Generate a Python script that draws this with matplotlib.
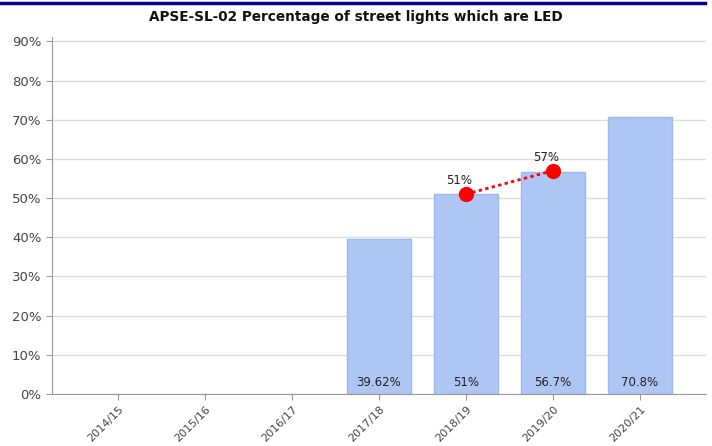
import matplotlib
matplotlib.use("Agg")
import matplotlib.pyplot as plt
from matplotlib.lines import Line2D

# Chart values
years = ["2014/15", "2015/16", "2016/17", "2017/18", "2018/19", "2019/20", "2020/21"]
bar_values = [None, None, None, 39.62, 51, 56.7, 70.8]
bar_labels = ["", "", "", "39.62%", "51%", "56.7%", "70.8%"]
target_years = ["2018/19", "2019/20"]
target_values = [51, 57]
target_labels = ["51%", "57%"]

fig = plt.figure(figsize=(7.12, 4.46), dpi=100)
ax = fig.add_axes([0.073, 0.1166, 0.9186, 0.7994])

x = list(range(len(years)))
xs = [i for i, v in zip(x, bar_values) if v is not None]
vs = [v for v in bar_values if v is not None]
ax.bar(xs, vs, width=0.74, color="#aec6f4", edgecolor="#9bb9f0", linewidth=1, zorder=2)

# Labels at the bottom of each bar
for i, lab in zip(x, bar_labels):
    if lab:
        ax.text(i, 1.2, lab, ha="center", va="bottom", fontsize=8.5, color="#222222", zorder=4)

# Red dotted line
tx = [years.index(y) for y in target_years]
ax.plot(tx, target_values, color="red", linestyle=(0, (1.2, 1.2)), linewidth=2,
        marker="o", markersize=10, zorder=5)
for i, v, lab in zip(tx, target_values, target_labels):
    ax.text(i - 0.08, v + 1.8, lab, ha="center", va="bottom", fontsize=8.5, color="#222222", zorder=6)

ax.set_xlim(-0.76, 6.76)
ax.set_ylim(0, 91)
ax.set_yticks(range(0, 91, 10))
ax.set_yticklabels([f"{t}%" for t in range(0, 91, 10)])
ax.set_xticks(x)
ax.set_xticklabels(years, rotation=45, ha="right", rotation_mode="anchor")

ax.grid(axis="y", color="#dddddd", linewidth=1, zorder=0)
ax.set_axisbelow(True)
for s in ["top", "right"]:
    ax.spines[s].set_visible(False)
ax.spines["left"].set_color("#999999")
ax.spines["bottom"].set_color("#999999")
ax.tick_params(axis="y", colors="#999999", labelcolor="#444444", labelsize=9.5, length=4)
ax.tick_params(axis="x", colors="#999999", labelcolor="#444444", labelsize=8, length=4)

fig.text(0.5, 0.962, "APSE-SL-02 Percentage of street lights which are LED",
         ha="center", va="center", fontsize=9.8, fontweight="bold", color="#111111")

# Navy rule across the top
fig.add_artist(Line2D([0, 0.99], [0.993, 0.993], color="#000080", linewidth=2.5))

fig.savefig("out.png", dpi=100)
